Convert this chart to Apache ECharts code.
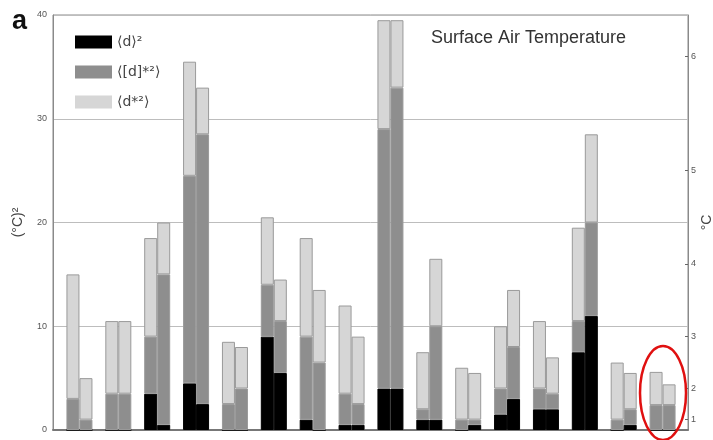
<!DOCTYPE html>
<html><head><meta charset="utf-8">
<script src="https://cdn.jsdelivr.net/npm/echarts@6/dist/echarts.min.js"></script>
<style>html,body{margin:0;padding:0;background:#fff}#c{width:713px;height:440px}</style>
</head><body><div id="c"></div>
<script>
const categories = ['M1','M2','M3','M4','M5','M6','M7','M8','M9','M10','M11','M12','M13','M14','M15','M16'];
const seriesNames = ['⟨d⟩²', '⟨[d]*²⟩', '⟨d*²⟩'];
// left bar of each pair
const blackA = [0,0,3.5,4.5,0,9,1,0.5,4,1,0,1.5,2,7.5,0,0];
const darkA  = [3,3.5,5.5,20,2.5,5,8,3,25,1,1,2.5,2,3,1,2.4];
const lightA = [12,7,9.5,11,6,6.5,9.5,8.5,10.5,5.5,5,6,6.5,9,5.5,3.2];
// right bar of each pair
const blackB = [0,0,0.5,2.5,0,5.5,0,0.5,4,1,0.5,3,2,11,0.5,0];
const darkB  = [1,3.5,14.5,26,4,5,6.5,2,29,9,0.5,5,1.5,9,1.5,2.4];
const lightB = [4,7,5,4.5,4,4,7,6.5,6.5,6.5,4.5,5.5,3.5,8.5,3.5,2];
const leftTicks = [0,10,20,30,40];
const rightTickSquares = [1,4,9,16,25,36];

const colors = ['#000000','#8e8e8e','#d6d6d6'];
function mk(name, data, stack, ci) {
  return {
    name: name, type: 'bar', stack: stack, data: data,
    xAxisIndex: 1, yAxisIndex: 2,
    barWidth: 13, barGap: '0%',
    itemStyle: { color: colors[ci], borderColor: ci === 0 ? '#000' : '#9a9a9a', borderWidth: 1 },
    emphasis: { disabled: true }, animation: false
  };
}
const chart = echarts.init(document.getElementById('c'), null, {renderer: 'canvas'});
chart.setOption({
  animation: false,
  backgroundColor: '#fff',
  title: [
    { text: 'a', left: 7, top: 3, textStyle: { fontFamily: 'Liberation Sans', fontSize: 27, fontWeight: 'bold', color: '#111' } },
    { text: 'Surface Air Temperature', left: 431, top: 29, padding: 0, textStyle: { fontFamily: 'Liberation Sans', fontSize: 18, fontWeight: 'normal', color: '#333' } }
  ],
  legend: {
    data: seriesNames, orient: 'vertical', left: 75, top: 35, padding: 0, itemWidth: 37, itemHeight: 13, itemGap: 16,
    icon: 'rect', selectedMode: false,
    itemStyle: { borderWidth: 0 },
    textStyle: { fontFamily: 'DejaVu Sans', fontSize: 14, lineHeight: 13, color: '#444' }
  },
  grid: [
    { left: 53, right: 25, top: 15, bottom: 10, show: true, borderColor: '#8a8a8a', borderWidth: 1, outerBoundsMode: 'none', containLabel: false },
    { left: 60, right: 31, top: 15, bottom: 10, outerBoundsMode: 'none', containLabel: false }
  ],
  xAxis: [
    { gridIndex: 0, type: 'value', min: 0, max: 1, position: 'top',
      axisLine: { show: true, lineStyle: { color: '#777', width: 2 } },
      axisTick: { show: false }, axisLabel: { show: false }, splitLine: { show: false } },
    { gridIndex: 1, type: 'category', data: categories, show: false }
  ],
  yAxis: [
    { gridIndex: 0, type: 'value', min: leftTicks[0], max: leftTicks[leftTicks.length-1], interval: 10,
      name: '(°C)²', nameLocation: 'middle', nameGap: 28, nameRotate: 90, nameMoveOverlap: false,
      nameTextStyle: { fontFamily: 'Liberation Sans', fontSize: 14, color: '#444' },
      axisLine: { show: true, lineStyle: { color: '#8a8a8a' } }, axisTick: { show: false },
      axisLabel: { fontFamily: 'Liberation Sans', fontSize: 9, color: '#555', margin: 6 },
      splitLine: { show: true, lineStyle: { color: '#bdbdbd', width: 1 } } },
    { gridIndex: 0, type: 'value', position: 'right', min: 0, max: 40,
      name: '°C', nameLocation: 'middle', nameGap: 12, nameRotate: 90, nameMoveOverlap: false,
      nameTextStyle: { fontFamily: 'Liberation Sans', fontSize: 14, color: '#444' },
      axisLine: { show: true, lineStyle: { color: '#8a8a8a' } },
      axisTick: { show: true, inside: true, length: 3, customValues: rightTickSquares, lineStyle: { color: '#666' } },
      axisLabel: { customValues: rightTickSquares, fontFamily: 'Liberation Sans', fontSize: 9, color: '#555', margin: 3,
        formatter: v => String(Math.round(Math.sqrt(v))) },
      splitLine: { show: false } },
    { gridIndex: 1, type: 'value', min: 0, max: 40, show: false }
  ],
  series: [
    mk(seriesNames[0], blackA, 'A', 0), mk(seriesNames[1], darkA, 'A', 1), mk(seriesNames[2], lightA, 'A', 2),
    mk(seriesNames[0], blackB, 'B', 0), mk(seriesNames[1], darkB, 'B', 1), mk(seriesNames[2], lightB, 'B', 2)
  ],
  graphic: [
    { type: 'ellipse', shape: { cx: 663, cy: 393, rx: 23, ry: 47 }, style: { fill: 'none', stroke: '#e01010', lineWidth: 2.5 }, z: 100 }
  ]
});
</script></body></html>
